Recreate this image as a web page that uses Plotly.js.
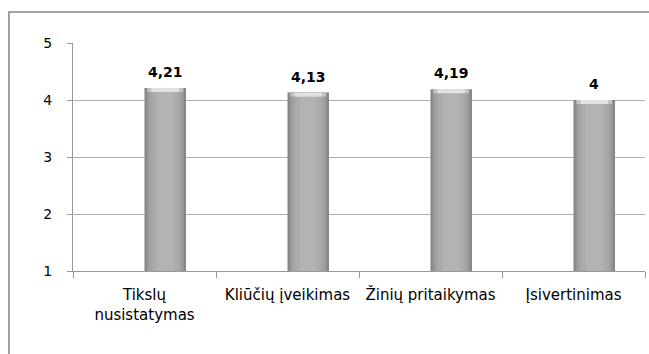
<!DOCTYPE html>
<html>
<head>
<meta charset="utf-8">
<script src="https://cdn.plot.ly/plotly-3.0.1.min.js"></script>
<style>
  html, body { margin: 0; padding: 0; background: #fff; }
  #chart { width: 649px; height: 354px; }
</style>
</head>
<body>
<div id="chart"></div>
<script>
// Average scores per skill area
const categories = ["Tikslų<br>nusistatymas", "Kliūčių įveikimas", "Žinių pritaikymas", "Įsivertinimas"];
const scores = [4.21, 4.13, 4.19, 4];
const yTicks = [1, 2, 3, 4, 5];

const FONT = "DejaVu Sans, Verdana, sans-serif";

// Bars sit just right of each category centre (Excel-style gap)
const barLeft = 0;
const barWidth = 0.29;
const barCenter = barLeft + barWidth / 2;

// Shaded column built from nested layers: dark rim, lighter core
const layers = [
  { w: 1.00, color: "#858585" },
  { w: 0.90, color: "#979797" },
  { w: 0.78, color: "#a4a4a4" },
  { w: 0.62, color: "#acacac" },
  { w: 0.40, color: "#b3b3b3" }
];

const traces = layers.map(l => {
  const w = barWidth * l.w;
  return {
    type: "bar",
    x: categories,
    y: scores,
    width: w,
    offset: barCenter - w / 2,
    marker: { color: l.color, line: { width: 0 } },
    hoverinfo: "skip",
    showlegend: false
  };
});

// Bevelled top highlight
const capH = 0.07;
[{ w: 0.86, color: "#c4c4c4" }, { w: 0.66, color: "#e2e2e2" }].forEach(c => {
  const w = barWidth * c.w;
  traces.push({
    type: "bar",
    x: categories,
    y: scores.map(() => capH),
    base: scores.map(v => v - capH),
    width: w,
    offset: barCenter - w / 2,
    marker: { color: c.color, line: { width: 0 } },
    hoverinfo: "skip",
    showlegend: false
  });
});

const fmt = v => String(v).replace(".", ",");
const annotations = scores.map((v, i) => ({
  x: i + barCenter,
  y: v,
  xref: "x",
  yref: "y",
  text: "<b>" + fmt(v) + "</b>",
  showarrow: false,
  yanchor: "bottom",
  yshift: 6,
  font: { family: FONT, size: 14, color: "#000" }
}));

const layout = {
  width: 649,
  height: 354,
  margin: { l: 73, r: 4, t: 43, b: 83 },
  paper_bgcolor: "#fff",
  plot_bgcolor: "#fff",
  barmode: "overlay",
  font: { family: FONT, size: 14, color: "#000" },
  xaxis: {
    type: "category",
    tickson: "boundaries",
    ticks: "outside",
    ticklen: 6,
    tickcolor: "#999",
    showline: true,
    linecolor: "#999",
    linewidth: 1,
    showgrid: false,
    ticklabelstandoff: 10,
    tickfont: { family: FONT, size: 15, color: "#000" },
    range: [-0.5, 3.5],
    fixedrange: true
  },
  yaxis: {
    range: [1, 5],
    tickvals: yTicks,
    ticktext: yTicks.map(String),
    ticks: "outside",
    ticklen: 5,
    tickcolor: "#999",
    showline: true,
    linecolor: "#999",
    linewidth: 1,
    showgrid: true,
    gridcolor: "#b0b0b0",
    gridwidth: 1,
    zeroline: false,
    ticklabelstandoff: 12,
    tickfont: { family: FONT, size: 14, color: "#000" },
    fixedrange: true
  },
  annotations: annotations,
  shapes: [{
    type: "rect",
    xref: "paper",
    yref: "paper",
    x0: -0.112, x1: 1.2,
    y0: -0.6, y1: 1.136,
    line: { color: "#868686", width: 1.5 },
    fillcolor: "rgba(0,0,0,0)",
    layer: "below"
  }]
};

Plotly.newPlot("chart", traces, layout, { displayModeBar: false, staticPlot: true });
</script>
</body>
</html>
